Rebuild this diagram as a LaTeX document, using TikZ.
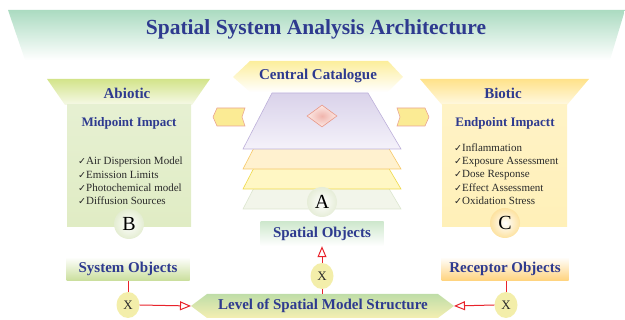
\documentclass[tikz,border=0pt]{standalone}
\usepackage{fontspec}
\setmainfont{Liberation Serif}
\newfontfamily\symf{DejaVu Sans}
\usetikzlibrary{arrows.meta,shapes.geometric}
\definecolor{navy}{HTML}{2E3A8F}
\definecolor{ttlgreen}{HTML}{ABDBC1}
\definecolor{redline}{HTML}{E8232B}
\definecolor{chevfill}{HTML}{FBEB94}
\definecolor{chevdraw}{HTML}{E9A595}
\definecolor{txtgray}{HTML}{2A2A2A}
\definecolor{xfill}{HTML}{F3EEAA}
\definecolor{ccyel}{HTML}{FCEE9C}
\definecolor{gbandf}{HTML}{F2F5EA}
\definecolor{gbandd}{HTML}{DCE6CF}
\definecolor{ybandf}{HTML}{FFF7C4}
\definecolor{ybandd}{HTML}{EFD94A}
\definecolor{obandf}{HTML}{FFF1CF}
\definecolor{obandd}{HTML}{F6C968}
\definecolor{purtop}{HTML}{D9D2EA}
\definecolor{purbot}{HTML}{F5F2FA}
\definecolor{purd}{HTML}{BDB0DA}
\definecolor{diain}{HTML}{F0B4AC}
\definecolor{diaout}{HTML}{FCEAE6}
\definecolor{diad}{HTML}{E89888}
\definecolor{glowA}{HTML}{E6EDD8}
\definecolor{glowB}{HTML}{E4EDD2}
\definecolor{glowC}{HTML}{FDE2A0}
\definecolor{abtop}{HTML}{D3E48A}
\definecolor{abbot}{HTML}{F6F9E8}
\definecolor{agtop}{HTML}{E6F0D2}
\definecolor{agmid}{HTML}{F8FBF0}
\definecolor{agbot}{HTML}{E0ECC4}
\definecolor{bttop}{HTML}{FFE28A}
\definecolor{btbot}{HTML}{FFF9E2}
\definecolor{bytop}{HTML}{FFF3C6}
\definecolor{bymid}{HTML}{FFFBE8}
\definecolor{bybot}{HTML}{FFF0B8}
\definecolor{spotop}{HTML}{CFE8CE}
\definecolor{sysbot}{HTML}{C9DE9A}
\definecolor{recbot}{HTML}{FFD27A}
\definecolor{lvltop}{HTML}{BFDDA8}
\definecolor{lvlbot}{HTML}{F4EFB2}
\newcommand{\ck}{{\symf\fontsize{9.5}{9.5}\selectfont ✓}}
\tikzset{
  hd/.style={font=\bfseries\fontsize{15}{17}\selectfont, text=navy, inner sep=0pt},
  hdsm/.style={font=\bfseries\fontsize{13}{15}\selectfont, text=navy, inner sep=0pt},
  hdttl/.style={font=\bfseries\fontsize{21.5}{24}\selectfont, text=navy, inner sep=0pt},
  listtxt/.style={font=\fontsize{11}{13.4}\selectfont, text=txtgray, align=left, inner sep=0pt},
  glow/.style={circle, minimum size=30pt, inner sep=0pt, shading=radial, inner color=white,
     font=\fontsize{20}{20}\selectfont, text=black},
  xnode/.style={ellipse, minimum width=23pt, minimum height=26pt, inner sep=0pt, fill=xfill,
     font=\fontsize{13}{13}\selectfont, text=txtgray},
  objbox/.style={rectangle, minimum width=123pt, minimum height=24pt, inner sep=0pt,
     font=\bfseries\fontsize{15}{17}\selectfont, text=navy},
  chev/.style={fill=chevfill, draw=chevdraw, line width=0.6pt},
  rl/.style={draw=redline, line width=1pt},
  oarrow/.style={-{Triangle[open, length=11pt, width=9pt, fill=white]}},
}
\begin{document}
\begin{tikzpicture}[x=1pt,y=-1pt]
\useasboundingbox (0,0) rectangle (625,320);
% title banner
\path[top color=ttlgreen, bottom color=white] (8,10) -- (625,10) -- (610,60) -- (25,60) -- cycle;
\node[hdttl] (title) at (316,29) {Spatial System Analysis Architecture};

% central catalogue hexagon
\path[top color=ccyel, bottom color=white] (233,77) -- (250,61) -- (388,61) -- (403,77) -- (388,92) -- (250,92) -- cycle;
\node[hd] (cc) at (318,76) {Central Catalogue};

% layered planes (back to front)
\path[fill=gbandf, draw=gbandd, line width=0.6pt] (272,153) -- (368,153) -- (401,209) -- (243,209) -- cycle;
\path[fill=ybandf, draw=ybandd, line width=0.6pt] (272,133) -- (368,133) -- (401,189) -- (243,189) -- cycle;
\path[fill=obandf, draw=obandd, line width=0.6pt] (272,113) -- (368,113) -- (401,169) -- (243,169) -- cycle;
\path[top color=purtop, bottom color=purbot, draw=purd, line width=0.6pt] (272,93) -- (368,93) -- (401,149) -- (243,149) -- cycle;
\node[diamond, minimum width=30pt, minimum height=22pt, inner sep=0pt, shading=radial, inner color=diain, outer color=diaout, draw=diad, line width=0.6pt] (dia) at (322,116) {};
\node[glow, outer color=glowA] (A) at (322,202) {A};

% side chevrons
\path[chev] (213,117) -- (217,108) -- (245,108) -- (242,117) -- (245,126) -- (217,126) -- cycle;
\path[chev] (397,108) -- (425,108) -- (429,117) -- (425,126) -- (397,126) -- (400,117) -- cycle;

% left panel
\path[top color=abtop, bottom color=abbot] (47,79) -- (210,79) -- (192,105) -- (65,105) -- cycle;
\node[hd] (abiotic) at (127,93) {Abiotic};
\path[top color=agtop, middle color=agmid, bottom color=agbot] (67,105) rectangle (191,227);
\node[hdsm] (mid) at (129,123) {Midpoint Impact};
\node[listtxt, anchor=west] (lstB) at (78,181) {\ck Air Dispersion Model\\ \ck Emission Limits\\ \ck Photochemical model\\ \ck Diffusion Sources};
\node[glow, outer color=glowB] (B) at (129,224) {B};

% right panel
\path[top color=bttop, bottom color=btbot] (420,79) -- (589,79) -- (567,105) -- (442,105) -- cycle;
\node[hd] (biotic) at (503,93) {Biotic};
\path[top color=bytop, middle color=bymid, bottom color=bybot] (442,105) rectangle (567,227);
\node[hdsm] (endp) at (505,123) {Endpoint Impactt};
\node[listtxt, anchor=west] (lstC) at (454,174) {\ck Inflammation\\ \ck Exposure Assessment\\ \ck Dose Response\\ \ck Effect Assessment\\ \ck Oxidation Stress};
\node[glow, outer color=glowC] (C) at (505,223) {C};

% object boxes
\node[objbox, top color=spotop, bottom color=white] (spo) at (322,234) {Spatial Objects};
\node[objbox, top color=white, bottom color=sysbot] (sys) at (128,269) {System Objects};
\node[objbox, minimum width=127pt, top color=white, bottom color=recbot] (rec) at (505,269) {Receptor Objects};

% level hexagon
\path[top color=lvltop, bottom color=lvlbot] (191,306) -- (207,294) -- (438,294) -- (454,306) -- (438,318) -- (207,318) -- cycle;
\node[hd] (lvl) at (323,306) {Level of Spatial Model Structure};
\coordinate (lvlW) at (191,306);
\coordinate (lvlE) at (454,306);
\coordinate (lvlN) at (322,294);

% X nodes
\node[xnode] (xl) at (128,305) {X};
\node[xnode] (xm) at (322,276) {X};
\node[xnode] (xr) at (506,305) {X};

% connectors
\draw[rl] (sys.south) -- (xl.north);
\draw[rl] (rec.south -| xr.north) -- (xr.north);
\draw[rl, oarrow] (xl.east) -- (lvlW);
\draw[rl, oarrow] (xr.west) -- (lvlE);
\draw[rl] (lvlN) -- (xm.south);
\draw[rl, oarrow] (xm.north) -- (spo.south);
\end{tikzpicture}
\end{document}
